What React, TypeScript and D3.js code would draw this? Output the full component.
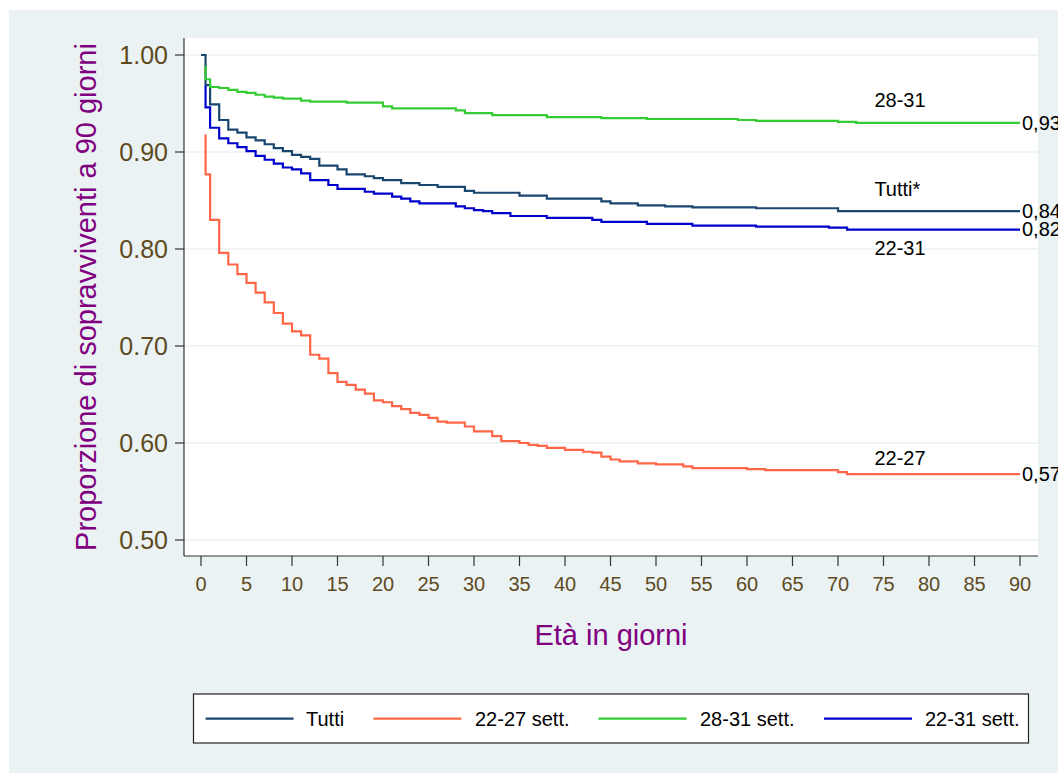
import React from "react";
import * as d3 from "d3";

// ---------- data ----------
const tutti: [number, number][] = [
  [0, 1.0], [0.5, 0.969], [1, 0.949], [2, 0.933], [3, 0.923], [4, 0.92], [5, 0.915], [6, 0.912],
  [7, 0.908], [8, 0.904], [9, 0.901], [10, 0.897], [11, 0.895], [12, 0.893], [13, 0.886], [15, 0.882],
  [16, 0.877], [18, 0.875], [19, 0.873], [20, 0.871], [22, 0.868], [24, 0.866], [26, 0.864], [29, 0.86],
  [30, 0.858], [35, 0.855], [38, 0.852], [44, 0.849], [45, 0.847], [48, 0.845], [51, 0.844], [54, 0.843],
  [61, 0.842], [70, 0.839], [90, 0.839],
];
const sett2227: [number, number][] = [
  [0.5, 0.918], [0.5, 0.877], [1, 0.83], [2, 0.796], [3, 0.784], [4, 0.774], [5, 0.765], [6, 0.755],
  [7, 0.745], [8, 0.734], [9, 0.723], [10, 0.715], [11, 0.711], [12, 0.691], [13, 0.687], [14, 0.672],
  [15, 0.663], [16, 0.66], [17, 0.655], [18, 0.651], [19, 0.644], [20, 0.642], [21, 0.638], [22, 0.635],
  [23, 0.631], [24, 0.629], [25, 0.626], [26, 0.622], [27, 0.621], [29, 0.617], [30, 0.612], [32, 0.607],
  [33, 0.602], [35, 0.6], [36, 0.598], [37, 0.597], [38, 0.595], [40, 0.593], [42, 0.591], [43, 0.59],
  [44, 0.586], [45, 0.583], [46, 0.581], [48, 0.579], [50, 0.578], [53, 0.576], [54, 0.574], [60, 0.573],
  [62, 0.572], [70, 0.57], [71, 0.568], [90, 0.568],
];
const sett2831: [number, number][] = [
  [0.5, 0.989], [0.5, 0.975], [1, 0.967], [2, 0.966], [3, 0.964], [4, 0.962], [5, 0.961], [6, 0.959],
  [7, 0.957], [8, 0.956], [9, 0.955], [11, 0.953], [12, 0.952], [16, 0.951], [20, 0.947], [21, 0.945],
  [28, 0.943], [29, 0.94], [32, 0.938], [38, 0.936], [44, 0.935], [49, 0.934], [59, 0.933], [61, 0.932],
  [70, 0.931], [72, 0.93], [90, 0.93],
];
const sett2231: [number, number][] = [
  [0.5, 0.968], [0.5, 0.946], [1, 0.925], [2, 0.914], [3, 0.909], [4, 0.905], [5, 0.901], [6, 0.896],
  [7, 0.892], [8, 0.888], [9, 0.884], [10, 0.882], [11, 0.878], [12, 0.871], [14, 0.866], [15, 0.862],
  [18, 0.859], [19, 0.857], [21, 0.854], [22, 0.852], [23, 0.849], [24, 0.847], [28, 0.844], [29, 0.842],
  [30, 0.84], [31, 0.839], [32, 0.837], [34, 0.834], [38, 0.832], [43, 0.83], [44, 0.828], [49, 0.826],
  [54, 0.824], [61, 0.823], [69, 0.822], [71, 0.82], [90, 0.82],
];

const seriesNames = ["Tutti", "22-27 sett.", "28-31 sett.", "22-31 sett."];
const seriesColors = ["#1a476f", "#ff6647", "#33cc33", "#0000cc"];
const seriesData = [tutti, sett2227, sett2831, sett2231];

const endLabels = ["0,84", "0,57", "0,93", "0,82"];
const curveLabels = ["Tutti*", "22-27", "28-31", "22-31"];
const curveLabelPos: [number, number][] = [
  [74, 0.8546], [74, 0.5773], [74, 0.9467], [74, 0.7938],
];

const xTicks = d3.range(0, 91, 5);
const yTicks = [0.5, 0.6, 0.7, 0.8, 0.9, 1.0];

// ---------- layout (page coordinates) ----------
const W = 1058;
const H = 773;
const plotL = 184, plotR = 1038, plotT = 38, plotB = 556;
const tickColor = "#5f4a1e";
const titleColor = "#800080";
const font = "'Liberation Sans', Arial, Helvetica, sans-serif";

export default function App() {
  const x = d3.scaleLinear().domain([0, 90]).range([201, 1020]);
  const y = d3.scaleLinear().domain([0.5, 1.0]).range([540, 55]);
  const line = d3
    .line<[number, number]>()
    .x((d) => x(d[0]))
    .y((d) => y(d[1]))
    .curve(d3.curveStepAfter);

  const legendLineX = [205.5, 373.5, 598.5, 824];
  const legendTextX = [306, 475, 700, 925];
  const legendY = 718.7;

  return (
    <svg
      width={W}
      height={H}
      style={{ position: "absolute", left: 0, top: 0, display: "block", fontFamily: font }}
    >
      <rect x={0} y={0} width={W} height={H} fill="#ffffff" />
      <rect x={9} y={10} width={W} height={H} fill="#eaf2f3" />
      <rect x={plotL} y={plotT} width={plotR - plotL} height={plotB - plotT} fill="#ffffff" />
      {/* gridlines */}
      {yTicks.map((t) => (
        <line key={"g" + t} x1={plotL} x2={plotR} y1={y(t)} y2={y(t)} stroke="#eaf2f3" strokeWidth={1.5} />
      ))}
      {/* series */}
      {seriesData.map((s, i) => (
        <path key={"s" + i} d={line(s) || ""} fill="none" stroke={seriesColors[i]} strokeWidth={2.2} />
      ))}
      {/* axes */}
      <line x1={plotL} x2={plotL} y1={plotT} y2={plotB} stroke="#333" strokeWidth={1.2} />
      <line x1={plotL} x2={plotR} y1={plotB} y2={plotB} stroke="#333" strokeWidth={1.2} />
      {yTicks.map((t) => (
        <g key={"yt" + t}>
          <line x1={plotL - 9} x2={plotL} y1={y(t)} y2={y(t)} stroke="#333" strokeWidth={1.2} />
          <text x={168} y={y(t)} dy="0.36em" textAnchor="end" fontSize={25} fill={tickColor}>
            {d3.format(".2f")(t)}
          </text>
        </g>
      ))}
      {xTicks.map((t) => (
        <g key={"xt" + t}>
          <line x1={x(t)} x2={x(t)} y1={plotB} y2={plotB + 10} stroke="#333" strokeWidth={1.2} />
          <text x={x(t)} y={591} textAnchor="middle" fontSize={20} fill={tickColor}>
            {t}
          </text>
        </g>
      ))}
      {/* titles */}
      <text x={611} y={645} textAnchor="middle" fontSize={29} fill={titleColor}>
        Età in giorni
      </text>
      <text
        transform={`translate(96,${(plotT + plotB) / 2}) rotate(-90)`}
        textAnchor="middle"
        fontSize={29}
        fill={titleColor}
      >
        Proporzione di sopravviventi a 90 giorni
      </text>
      {/* curve labels */}
      {curveLabels.map((l, i) => (
        <text key={"cl" + i} x={x(curveLabelPos[i][0])} y={y(curveLabelPos[i][1])} fontSize={20} fill="#000">
          {l}
        </text>
      ))}
      {/* end labels */}
      {seriesData.map((s, i) => {
        const last = s[s.length - 1];
        return (
          <text key={"el" + i} x={x(last[0]) + 2} y={y(last[1])} dy="0.33em" fontSize={20} fill="#000">
            {endLabels[i]}
          </text>
        );
      })}
      {/* legend */}
      <rect x={193.5} y={694} width={835} height={49} fill="#ffffff" stroke="#222" strokeWidth={1.2} />
      {seriesNames.map((n, i) => (
        <g key={"lg" + i}>
          <line x1={legendLineX[i]} x2={legendLineX[i] + 88} y1={legendY} y2={legendY} stroke={seriesColors[i]} strokeWidth={2.2} />
          <text x={legendTextX[i]} y={legendY} dy="0.35em" fontSize={20} fill="#000">
            {n}
          </text>
        </g>
      ))}
    </svg>
  );
}
